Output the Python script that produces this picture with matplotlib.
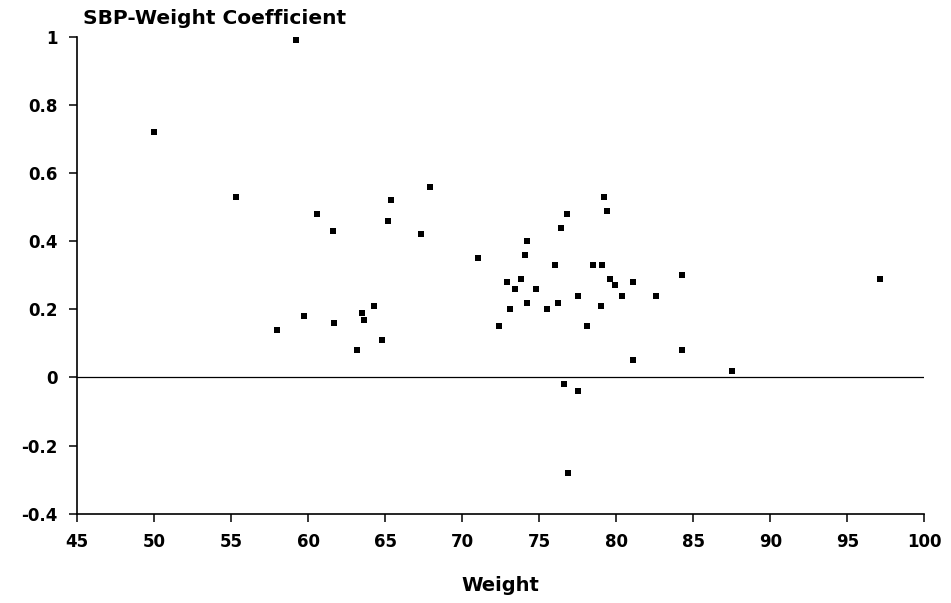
import matplotlib
matplotlib.use("Agg")
import matplotlib.pyplot as plt

weight = [50.0, 59.2, 55.3, 60.55, 61.6, 65.4, 65.2, 67.9, 67.3,
          58.0, 59.7, 61.7, 63.5, 63.6, 64.3, 64.8, 63.2,
          71.0, 79.2, 79.4, 76.8, 76.4, 74.2, 74.1, 76.0, 78.5, 79.1,
          72.9, 73.8, 73.4, 74.8, 79.6, 79.9, 81.1, 84.3, 77.5, 74.2,
          80.4, 82.6, 73.1, 75.5, 76.2, 79.0, 72.4, 78.1, 84.3, 81.1,
          87.5, 97.1, 76.6, 77.5, 76.9]
coef = [0.72, 0.99, 0.53, 0.48, 0.43, 0.52, 0.46, 0.56, 0.42,
        0.14, 0.18, 0.16, 0.19, 0.17, 0.21, 0.11, 0.08,
        0.35, 0.53, 0.49, 0.48, 0.44, 0.40, 0.36, 0.33, 0.33, 0.33,
        0.28, 0.29, 0.26, 0.26, 0.29, 0.27, 0.28, 0.30, 0.24, 0.22,
        0.24, 0.24, 0.20, 0.20, 0.22, 0.21, 0.15, 0.15, 0.08, 0.05,
        0.02, 0.29, -0.02, -0.04, -0.28]

x_ticks = [45, 50, 55, 60, 65, 70, 75, 80, 85, 90, 95, 100]
y_ticks = [-0.4, -0.2, 0, 0.2, 0.4, 0.6, 0.8, 1]
y_tick_labels = ["-0.4", "-0.2", "0", "0.2", "0.4", "0.6", "0.8", "1"]

plt.rcParams['font.family'] = ['DejaVu Sans']

fig = plt.figure(figsize=(9.51, 6.03), dpi=100)
ax = fig.add_axes([0.081, 0.148, 0.891, 0.791])

ax.scatter(weight, coef, marker='s', s=22, color='black', zorder=3, linewidths=0)
ax.axhline(0, color='black', linewidth=0.9)

ax.set_xlim(45, 100)
ax.set_ylim(-0.4, 1)
ax.set_xticks(x_ticks)
ax.set_xticklabels([str(t) for t in x_ticks])
ax.set_yticks(y_ticks)
ax.set_yticklabels(y_tick_labels)

for s in ['top', 'right']:
    ax.spines[s].set_visible(False)
for s in ['left', 'bottom']:
    ax.spines[s].set_linewidth(1.2)

ax.tick_params(axis='both', direction='out', length=6, width=1.1,
               labelsize=12, pad=8)
for lab in ax.get_xticklabels() + ax.get_yticklabels():
    lab.set_fontweight('bold')

ax.set_xlabel("Weight", fontsize=14, fontweight='bold', labelpad=18)
fig.text(0.087, 0.953, "SBP-Weight Coefficient", fontsize=14.5,
         fontweight='bold', ha='left', va='bottom')

fig.savefig("out.png", dpi=100)
